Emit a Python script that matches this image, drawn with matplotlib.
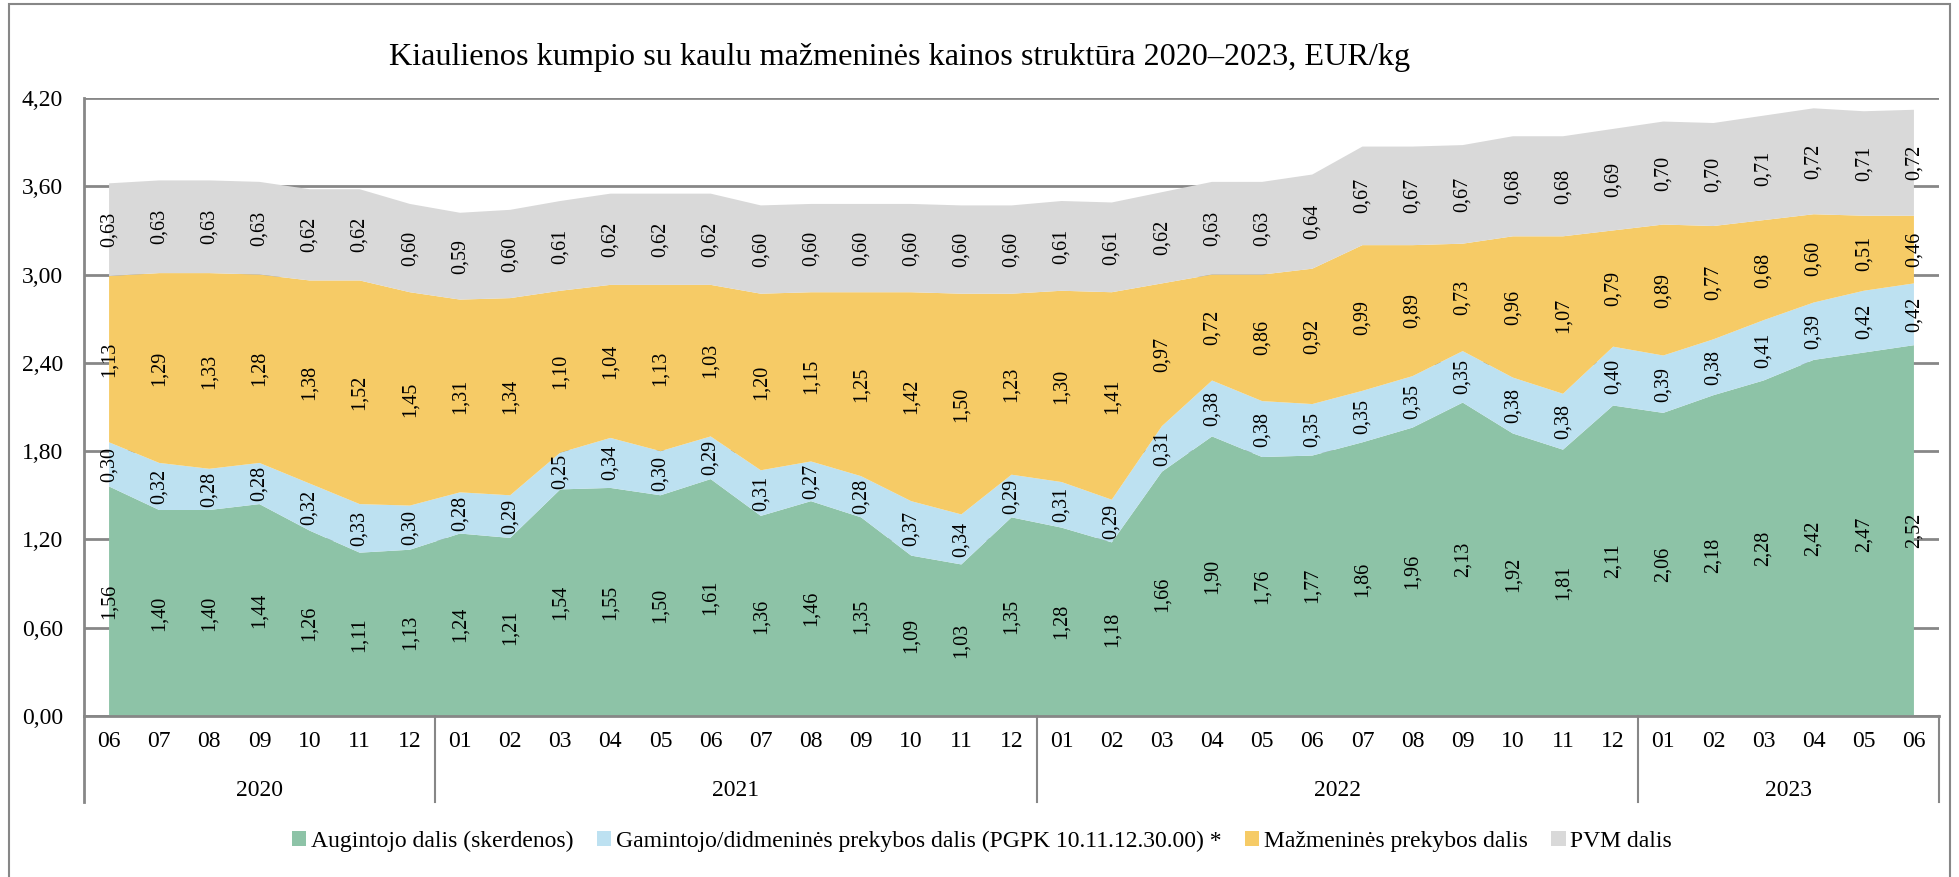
import numpy as np
import matplotlib
matplotlib.use('Agg')
from matplotlib import pyplot as plt
from matplotlib.patches import Patch, Rectangle
import matplotlib.transforms as mtransforms

plt.rcParams['font.family'] = ['Liberation Serif', 'DejaVu Serif']

title = 'Kiaulienos kumpio su kaulu mažmeninės kainos struktūra 2020–2023, EUR/kg'

years = ['2020', '2021', '2022', '2023']
year_months = [
    ['06', '07', '08', '09', '10', '11', '12'],
    ['01', '02', '03', '04', '05', '06', '07', '08', '09', '10', '11', '12'],
    ['01', '02', '03', '04', '05', '06', '07', '08', '09', '10', '11', '12'],
    ['01', '02', '03', '04', '05', '06'],
]
months = [m for ms in year_months for m in ms]

augintojo = [1.56, 1.40, 1.40, 1.44, 1.26, 1.11, 1.13,
             1.24, 1.21, 1.54, 1.55, 1.50, 1.61, 1.36, 1.46, 1.35, 1.09, 1.03, 1.35,
             1.28, 1.18, 1.66, 1.90, 1.76, 1.77, 1.86, 1.96, 2.13, 1.92, 1.81, 2.11,
             2.06, 2.18, 2.28, 2.42, 2.47, 2.52]
gamintojo = [0.30, 0.32, 0.28, 0.28, 0.32, 0.33, 0.30,
             0.28, 0.29, 0.25, 0.34, 0.30, 0.29, 0.31, 0.27, 0.28, 0.37, 0.34, 0.29,
             0.31, 0.29, 0.31, 0.38, 0.38, 0.35, 0.35, 0.35, 0.35, 0.38, 0.38, 0.40,
             0.39, 0.38, 0.41, 0.39, 0.42, 0.42]
mazmenines = [1.13, 1.29, 1.33, 1.28, 1.38, 1.52, 1.45,
              1.31, 1.34, 1.10, 1.04, 1.13, 1.03, 1.20, 1.15, 1.25, 1.42, 1.50, 1.23,
              1.30, 1.41, 0.97, 0.72, 0.86, 0.92, 0.99, 0.89, 0.73, 0.96, 1.07, 0.79,
              0.89, 0.77, 0.68, 0.60, 0.51, 0.46]
pvm = [0.63, 0.63, 0.63, 0.63, 0.62, 0.62, 0.60,
       0.59, 0.60, 0.61, 0.62, 0.62, 0.62, 0.60, 0.60, 0.60, 0.60, 0.60, 0.60,
       0.61, 0.61, 0.62, 0.63, 0.63, 0.64, 0.67, 0.67, 0.67, 0.68, 0.68, 0.69,
       0.70, 0.70, 0.71, 0.72, 0.71, 0.72]

series_names = ['Augintojo dalis (skerdenos)',
                'Gamintojo/didmeninės prekybos dalis (PGPK 10.11.12.30.00) *',
                'Mažmeninės prekybos dalis',
                'PVM dalis']
colors = ['#8DC3A7', '#BDE1F1', '#F6CB66', '#D9D9D9']
grid_col = '#878787'

W, H = 1959, 877
fig = plt.figure(figsize=(W / 100, H / 100), dpi=100)
ax = fig.add_axes([84 / W, 1 - 716 / H, (1939 - 84) / W, (716 - 98) / H])

x = np.arange(len(months))
data = np.array([augintojo, gamintojo, mazmenines, pvm])
ax.stackplot(x, data, colors=colors, linewidth=0, zorder=2)

# data labels in the middle of each band
bottoms = np.vstack([np.zeros(len(x)), np.cumsum(data, axis=0)[:-1]])
for s in range(data.shape[0]):
    for i in x:
        v = data[s, i]
        ax.text(i, bottoms[s, i] + v / 2, f'{v:.2f}'.replace('.', ','),
                rotation=90, ha='center', va='center', fontsize=14.5, zorder=3)

ax.set_xlim(-0.5, len(x) - 0.5)
ax.set_ylim(0, 4.2)
yt = np.arange(0, 4.21, 0.6)
ax.set_yticks(yt)
ax.set_yticklabels([f'{v:.2f}'.replace('.', ',') for v in yt], fontsize=17)
ax.set_xticks(x)
ax.set_xticklabels(months, fontsize=17)
ax.tick_params(axis='both', length=0)
ax.tick_params(axis='y', pad=15)
ax.tick_params(axis='x', pad=11)
ax.grid(axis='y', color=grid_col, linewidth=2, zorder=1)
ax.set_axisbelow(True)
for side in ['top', 'right']:
    ax.spines[side].set_visible(False)
for side in ['left', 'bottom']:
    ax.spines[side].set_color(grid_col)
    ax.spines[side].set_linewidth(2)

# year groups under the month labels
trans = mtransforms.blended_transform_factory(ax.transData, ax.transAxes)
start = -0.5
for yr, ms in zip(years, year_months):
    end = start + len(ms)
    ax.text((start + end) / 2, -0.12, yr, transform=trans, ha='center',
            va='center', fontsize=17)
    ax.plot([end, end], [0, -0.139], transform=trans, color=grid_col,
            linewidth=1.5, clip_on=False)
    start = end
ax.plot([-0.5, -0.5], [0, -0.139], transform=trans, color=grid_col,
        linewidth=2, clip_on=False)

fig.text(900 / W, 1 - 57 / H, title, ha='center', va='center', fontsize=23.2)

handles = [Patch(facecolor=c, edgecolor='none') for c in colors]
fig.legend(handles, series_names, loc='center', ncol=4,
           bbox_to_anchor=(982 / W, 1 - 841 / H), frameon=False, fontsize=17,
           handlelength=0.6, handleheight=0.6, handletextpad=0.2,
           columnspacing=1.0)

fig.patches.append(Rectangle((9 / W, -0.1), (1950 - 9) / W, 1.1 - 4 / H,
                             transform=fig.transFigure, fill=False,
                             edgecolor=grid_col, linewidth=1.5))

plt.savefig('out.png', dpi=100)
plt.close()
